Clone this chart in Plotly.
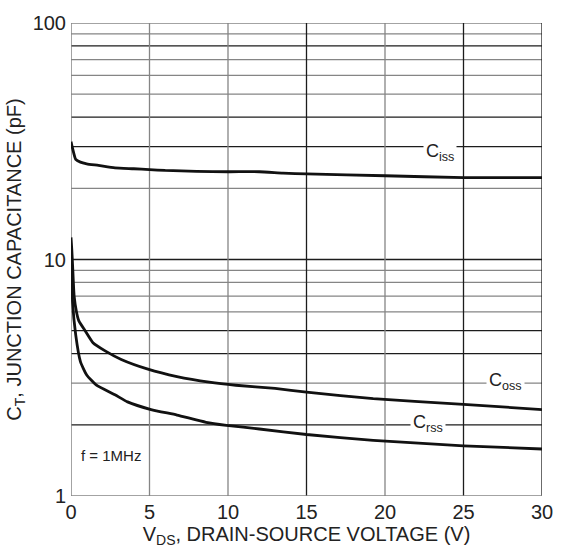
import plotly.graph_objects as go
import numpy as np

# Capacitance vs drain-source voltage (f = 1 MHz)
v_iss = [0, 0.1, 0.3, 0.6, 1.0, 1.75, 2.8, 4.0, 5.0, 6.0, 8.0, 10.0, 12.0, 13.5, 15.0, 20.0, 25.0, 30.0]
c_iss = [31.5, 29.5, 26.5, 25.8, 25.4, 25.0, 24.4, 24.2, 24.0, 23.8, 23.6, 23.5, 23.5, 23.2, 23.0, 22.6, 22.2, 22.2]

v_oss = [0, 0.05, 0.1, 0.2, 0.35, 0.5, 0.9, 1.4, 2.2, 3.2, 4.9, 6.75, 8.8, 10.5, 13.0, 15.0, 19.25, 25.0, 30.0]
c_oss = [12.4, 11.0, 9.5, 7.0, 6.0, 5.5, 5.0, 4.45, 4.1, 3.78, 3.44, 3.2, 3.03, 2.94, 2.85, 2.75, 2.58, 2.44, 2.32]

v_rss = [0, 0.05, 0.1, 0.3, 0.6, 1.0, 1.6, 2.8, 3.6, 5.1, 6.75, 8.6, 9.9, 12.0, 15.0, 19.25, 25.0, 30.0]
c_rss = [10.2, 8.5, 6.6, 4.8, 3.7, 3.25, 2.95, 2.68, 2.5, 2.32, 2.2, 2.05, 1.99, 1.92, 1.82, 1.72, 1.63, 1.58]

x_ticks = [0, 5, 10, 15, 20, 25, 30]
y_ticks = [1, 10, 100]

# grid values and their stroke tone (True = dark)
h_grid = [(2, True), (3, False), (4, True), (5, True), (6, False), (7, False), (8, False), (9, False),
          (10, True), (20, False), (30, True), (40, True), (50, False), (60, False), (70, False),
          (80, True), (90, False), (100, False)]
v_grid = [(5, False), (10, False), (15, True), (20, False), (25, True), (30, True)]

DARK = "#1c1c1c"
GRAY = "#858585"
FONT = "Liberation Sans, Arial, sans-serif"

fig = go.Figure()
for vx, cy in [(v_iss, c_iss), (v_oss, c_oss), (v_rss, c_rss)]:
    fig.add_trace(go.Scatter(x=vx, y=cy, mode="lines",
                             line=dict(color="#111111", width=2.8, shape="spline", smoothing=0.5),
                             showlegend=False, hoverinfo="skip"))

shapes = []
for val, dark in h_grid:
    shapes.append(dict(type="line", xref="x", yref="y", x0=0, x1=30, y0=val, y1=val, layer="below",
                       line=dict(color=DARK if dark else GRAY, width=1.3)))
for val, dark in v_grid:
    shapes.append(dict(type="line", xref="x", yref="y", x0=val, x1=val, y0=1, y1=100, layer="below",
                       line=dict(color=DARK if dark else GRAY, width=1.3)))
# left and bottom frame
shapes.append(dict(type="line", xref="x", yref="y", x0=0, x1=0, y0=1, y1=100, layer="below",
                   line=dict(color=GRAY, width=1.5)))
shapes.append(dict(type="line", xref="x", yref="y", x0=0, x1=30, y0=1, y1=1, layer="below",
                   line=dict(color=GRAY, width=1.5)))

labels = [("C<sub>iss</sub>", 23.5, 28.3), ("C<sub>oss</sub>", 27.7, 3.05), ("C<sub>rss</sub>", 22.75, 2.02)]
annotations = []
for txt, lx, ly in labels:
    annotations.append(dict(x=lx, y=np.log10(ly), xref="x", yref="y", text=txt, showarrow=False,
                            bgcolor="white", borderpad=2,
                            font=dict(family=FONT, size=18, color="#222222")))
annotations.append(dict(x=0.5, y=np.log10(1.48), xref="x", yref="y", text="f = 1MHz",
                        showarrow=False, xanchor="left",
                        font=dict(family=FONT, size=15, color="#222222")))

fig.update_layout(
    width=565, height=554,
    margin=dict(l=71, r=13, t=15, b=58),
    paper_bgcolor="white", plot_bgcolor="white",
    shapes=shapes, annotations=annotations,
    font=dict(family=FONT, color="#222222"),
    xaxis=dict(range=[0, 30], tickvals=x_ticks, ticktext=[str(t) for t in x_ticks],
               showgrid=False, zeroline=False, showline=False, ticks="",
               tickfont=dict(size=20), ticklabelstandoff=2,
               title=dict(text="V<sub>DS</sub>, DRAIN-SOURCE VOLTAGE (V)", font=dict(size=20), standoff=3)),
    yaxis=dict(type="log", range=[0, 2], tickvals=y_ticks, ticktext=[str(t) for t in y_ticks],
               showgrid=False, zeroline=False, showline=False, ticks="",
               tickfont=dict(size=20), ticklabelstandoff=4,
               title=dict(text="C<sub>T</sub>, JUNCTION CAPACITANCE (pF)", font=dict(size=20), standoff=5)),
)

fig.write_html("out.html")
